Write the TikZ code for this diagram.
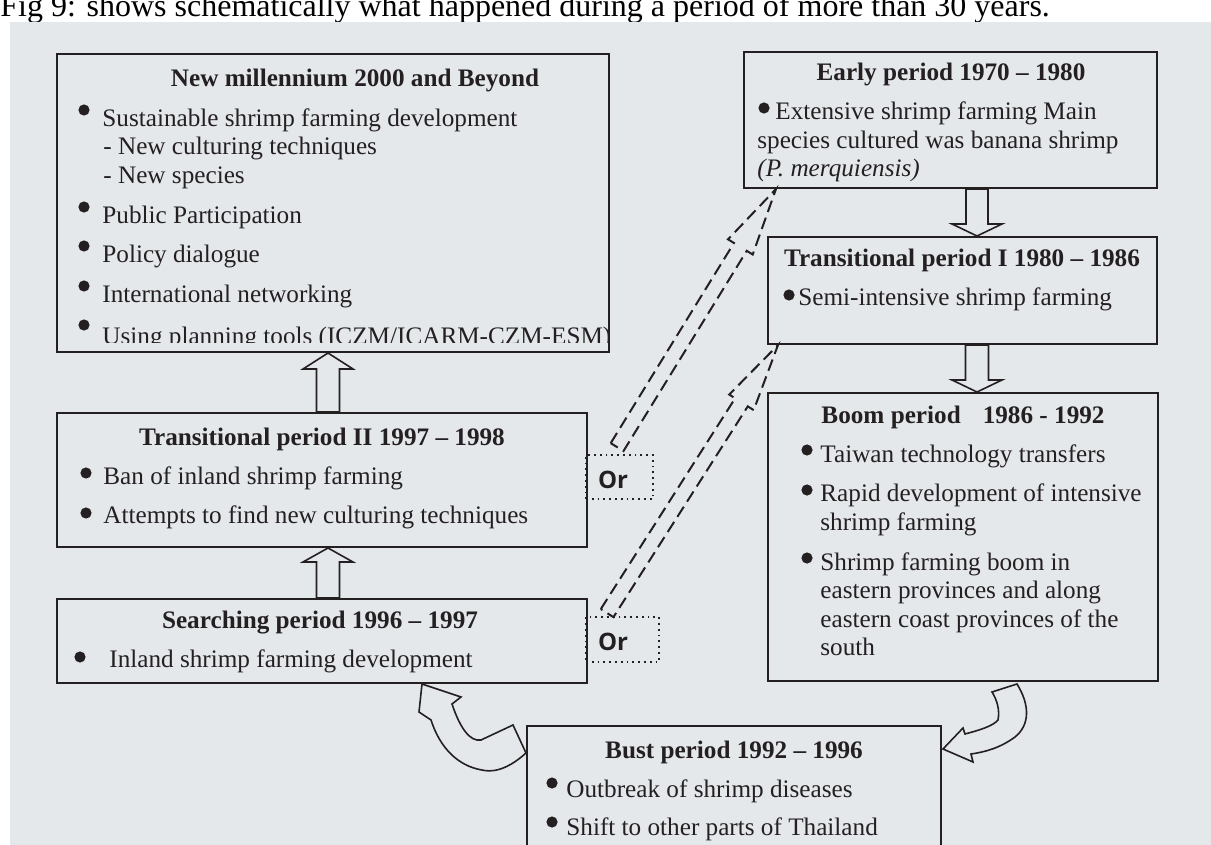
\documentclass[tikz,border=0pt]{standalone}
\usepackage{fontspec}
\setmainfont{Liberation Serif}
\newfontfamily\orfont{Open Sans}
\usetikzlibrary{calc,fit}

\definecolor{ink}{RGB}{36,32,34}
\definecolor{paper}{RGB}{229,232,235}

\tikzset{
  box/.style={draw=ink, line width=1pt, inner sep=0pt},
  orbox/.style={draw=ink, line width=0.9pt, dotted, inner sep=0pt},
  txt/.style={anchor=base west, inner sep=0pt, text=ink},
  ttl/.style={anchor=base, inner sep=0pt, text=ink, font=\fontsize{12.6}{15}\selectfont\bfseries},
  ortxt/.style={anchor=base, inner sep=0pt, text=ink, font=\fontsize{12}{14}\orfont\bfseries},
  blk/.style={draw=ink, line width=0.8pt, line join=miter},
  dsh/.style={draw=ink, line width=1pt, dash pattern=on 6pt off 3pt},
}

% block arrow: [style]{tail}{tip}{half shaft}{half head}{head length}
\newcommand\blockarrow[6][blk]{%
  \coordinate (ba-h) at ($(#3)!#6!(#2)$);
  \draw[#1] ($(#2)!#4!90:(#3)$) -- ($(ba-h)!#4!90:(#3)$) -- ($(ba-h)!#5!90:(#3)$) -- (#3)
    -- ($(ba-h)!#5!-90:(#3)$) -- ($(ba-h)!#4!-90:(#3)$) -- ($(#2)!#4!-90:(#3)$) -- cycle;
}

\begin{document}
\begin{tikzpicture}[x=0.5pt, y=-0.5pt, font=\fontsize{12.6}{15}\selectfont]
\clip (0,0) rectangle (1211,845);
% page line above the scan
\node[txt, text=black, font=\fontsize{16}{18}\selectfont] (cap) at (0,17) {Fig 9: shows schematically what happened during a period of more than 30 years.};
\fill[paper] (10,22) rectangle (1211,845);

% boxes
\node[box, fit={(57,54) (609,352)}] (mil) {};
\node[box, fit={(744,52) (1157,188)}] (early) {};
\node[box, fit={(768,237) (1157,344)}] (tI) {};
\node[box, fit={(768,393) (1158,681)}] (boom) {};
\node[box, fit={(57,413) (587,547)}] (tII) {};
\node[box, fit={(57,599) (587,683)}] (search) {};
\node[box, fit={(527,726) (941,880)}] (bust) {};
\node[orbox, fit={(586,455) (653,499)}] (or1) {};
\node[orbox, fit={(586,617) (659,662)}] (or2) {};
\node[ortxt] (or1-t) at (613,488) {Or};
\node[ortxt] (or2-t) at (613,650) {Or};

% New millennium
\node[ttl] (mil-t) at (355,87) {New millennium 2000 and Beyond};
\node[txt] (mil-1) at (102,127) {Sustainable shrimp farming development};
\node[txt] (mil-2) at (103,155) {- New culturing techniques};
\node[txt] (mil-3) at (103,184) {- New species};
\node[txt] (mil-4) at (102,224) {Public Participation};
\node[txt] (mil-5) at (102,263) {Policy dialogue};
\node[txt] (mil-6) at (102,303) {International networking};
\begin{scope}
  \clip (57,54) rectangle (609,343);
  \node[txt] (mil-7) at (102,345) {Using planning tools (ICZM/ICARM-CZM-ESM)};
\end{scope}
\foreach \y in {110,207,246,286,325}
  \fill[ink] (84,\y) circle (2.8pt);

% Early period
\node[ttl] (early-t) at (951,81) {Early period 1970 – 1980};
\node[txt] (early-1) at (775,120) {Extensive shrimp farming Main};
\node[txt] (early-2) at (757,149) {species cultured was banana shrimp};
\node[txt] (early-3) at (757,177) {\itshape (P. merquiensis)};
\fill[ink] (764,108) circle (2.8pt);

% Transitional I
\node[ttl] (tI-t) at (962,267) {Transitional period I 1980 – 1986};
\node[txt] (tI-1) at (798,306) {Semi-intensive shrimp farming};
\fill[ink] (789,295) circle (2.8pt);

% Boom
\node[ttl] (boom-t) at (963,423) {Boom period\hspace{11pt}1986 - 1992};
\node[txt] (boom-1) at (820,462) {Taiwan technology transfers};
\node[txt] (boom-2) at (820,502) {Rapid development of intensive};
\node[txt] (boom-3) at (820,530) {shrimp farming};
\node[txt] (boom-4) at (820,570) {Shrimp farming boom in};
\node[txt] (boom-5) at (820,598) {eastern provinces and along};
\node[txt] (boom-6) at (820,627) {eastern coast provinces of the};
\node[txt] (boom-7) at (820,655) {south};
\foreach \y in {450,490,558}
  \fill[ink] (807,\y) circle (2.8pt);

% Transitional II
\node[ttl] (tII-t) at (322,445) {Transitional period II 1997 – 1998};
\node[txt] (tII-1) at (103,484) {Ban of inland shrimp farming};
\node[txt] (tII-2) at (103,523) {Attempts to find new culturing techniques};
\foreach \y in {473,513}
  \fill[ink] (86,\y) circle (2.8pt);

% Searching
\node[ttl] (search-t) at (320,628) {Searching period 1996 – 1997};
\node[txt] (search-1) at (109,667) {Inland shrimp farming development};
\fill[ink] (80,657) circle (2.8pt);

% Bust
\node[ttl] (bust-t) at (734,758) {Bust period 1992 – 1996};
\node[txt] (bust-1) at (566,797) {Outbreak of shrimp diseases};
\node[txt] (bust-2) at (566,835) {Shift to other parts of Thailand};
\foreach \y in {783,822}
  \fill[ink] (552,\y) circle (2.8pt);

% straight block arrows
\coordinate (upx) at (328,0);
\coordinate (dnx) at (977,0);
\coordinate (a1) at (upx |- search.north);
\coordinate (a2) at (upx |- tII.south);
\coordinate (a3) at (upx |- tII.north);
\coordinate (a4) at (upx |- mil.south);
\coordinate (b1) at (dnx |- early.south);
\coordinate (b2) at (dnx |- tI.north);
\coordinate (b3) at (dnx |- tI.south);
\coordinate (b4) at (dnx |- boom.north);
\blockarrow{a1}{a2}{5.75pt}{12.5pt}{7pt}
\blockarrow{a3}{a4}{5.75pt}{12.5pt}{8pt}
\blockarrow{b1}{b2}{5.5pt}{12.5pt}{6pt}
\blockarrow{b3}{b4}{5.75pt}{12.5pt}{6pt}

% dashed arrows from the Or boxes
\coordinate (d1a) at ($(or1.north west)+(32,-7)$);
\coordinate (d1b) at ($(early.south west)+(33,0)$);
\coordinate (d2a) at ($(or2.north west)+(22,-3)$);
\coordinate (d2b) at ($(tI.south west)+(11,0)$);
\blockarrow[dsh]{d1a}{d1b}{3.75pt}{7.25pt}{34pt}
\blockarrow[dsh]{d2a}{d2b}{3.75pt}{7.25pt}{34pt}

% curved arrows out of the bust period
\coordinate (cl-tip) at ($(search.south west)+(366,0)$);
\coordinate (cl-tail) at ($(bust.north west)+(0,28)$);
\draw[blk] (cl-tip) -- (461,697) -- (452,704) .. controls (460,728) and (470,742) .. (481,740)
  -- (513,725) -- (cl-tail) .. controls (505,772) and (490,772) .. (482,770)
  .. controls (458,766) and (440,748) .. (431,720) -- (419,712) -- cycle;
\coordinate (cr-tip) at ($(bust.north east)+(1,24)$);
\coordinate (cr-tail) at ($(boom.south west)+(250,2)$);
\draw[blk] (992,692) -- (cr-tail) .. controls (1030,705) and (1030,725) .. (1015,737)
  .. controls (1000,748) and (985,752) .. (971,754) -- (973,762) -- (cr-tip) -- (963,728)
  -- (965,734) .. controls (980,730) and (993,726) .. (998,720)
  .. controls (1000,710) and (997,700) .. (992,692) -- cycle;
\end{tikzpicture}
\end{document}
